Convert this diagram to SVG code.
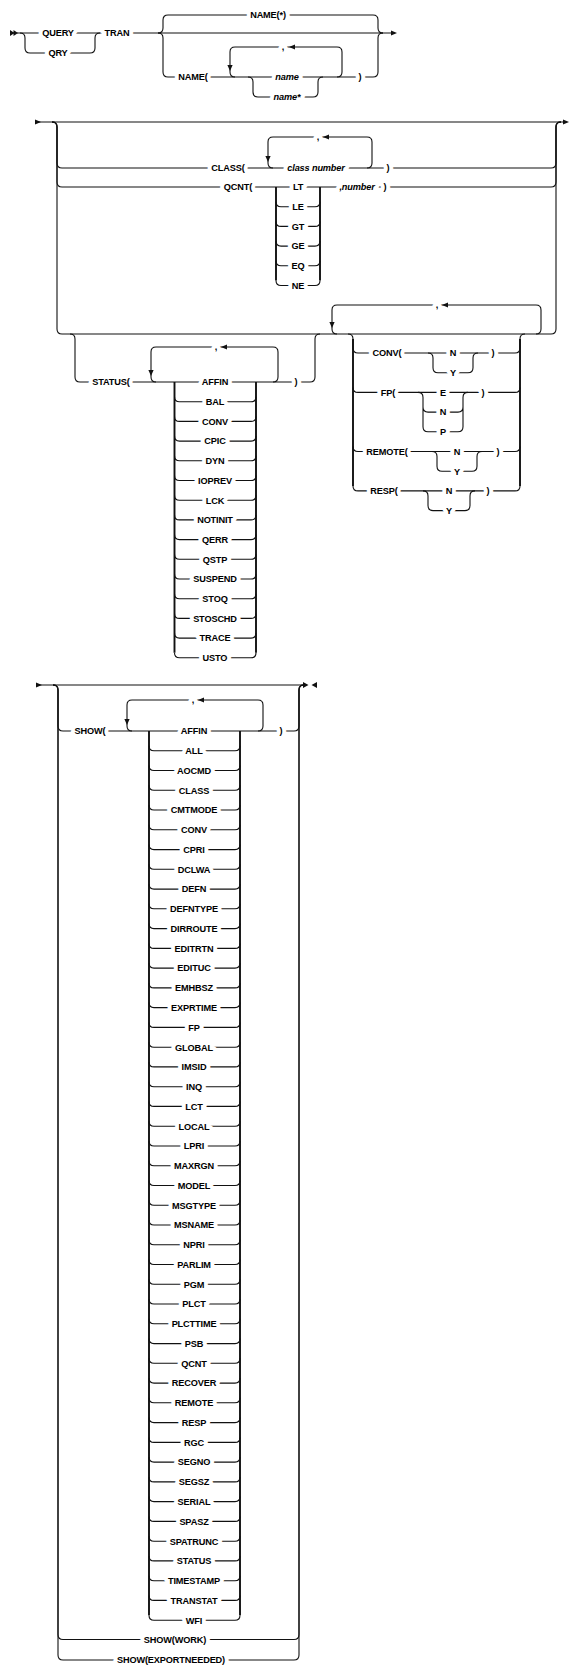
<svg xmlns="http://www.w3.org/2000/svg" xmlns:xlink="http://www.w3.org/1999/xlink" width="570" height="1668" viewBox="0 0 570 1668">
<defs>
<style>
.c{fill:none;stroke:#111;stroke-width:1.1}
.r{fill:none;stroke:#111;stroke-width:1.9}
.a{fill:#111;stroke:none}
text{font-family:"Liberation Sans",Arial,sans-serif;font-size:9.2px;letter-spacing:-0.15px;font-weight:bold;text-anchor:middle;fill:#000;stroke:#fff;stroke-width:8px;stroke-linejoin:round;paint-order:stroke}
text.i{font-style:italic}
</style>
<path id="al" d="M0,0 L6,-2.6 L6,2.6Z"/>
<path id="ad" d="M0,0 L-2.6,-6 L2.6,-6Z"/>
<path id="ar" d="M0,0 L-6,-2.6 L-6,2.6Z"/>
</defs>
<rect width="570" height="1668" fill="#fff"/>
<g id="connectors">
<!-- section 1 -->
<path class="a" d="M10,30 L14.5,33 L10,36Z M13.5,30 L18,33 L13.5,36Z"/>
<path class="c" d="M17,33 H391"/>
<use class="a" href="#ar" x="397" y="33"/>
<path class="c" d="M20,33 Q25,33 25,38 V48 Q25,53 30,53 H90 Q95,53 95,48 V38 Q95,33 100,33"/>
<path class="c" d="M158,33 Q163,33 163,28 V20 Q163,15 168,15 H373 Q378,15 378,20 V28 Q378,33 383,33"/>
<path class="c" d="M158,33 Q163,33 163,38 V72 Q163,77 168,77 H373 Q378,77 378,72 V38 Q378,33 383,33"/>
<path class="c" d="M337,77 Q342,77 342,72 V52 Q342,47 337,47 H235 Q230,47 230,52 V72 Q230,77 235,77"/>
<use class="a" href="#ad" x="230" y="71"/>
<use class="a" href="#al" x="289" y="47"/>
<path class="c" d="M248,77 Q253,77 253,82 V92 Q253,97 258,97 H313 Q318,97 318,92 V82 Q318,77 323,77"/>
<!-- section 2 -->
<path class="a" d="M35,119.4 L41,122 L35,124.6Z"/>
<path class="c" d="M35,122 H563"/>
<use class="a" href="#ar" x="569" y="122"/>
<path class="c" d="M52,122 Q57,122 57,127 V163 Q57,168 62,168 H551 Q556,168 556,163 V127 Q556,122 561,122"/>
<path class="c" d="M52,122 Q57,122 57,127 V182 Q57,187 62,187 H551 Q556,187 556,182 V127 Q556,122 561,122"/>
<path class="c" d="M52,122 Q57,122 57,127 V329 Q57,334 62,334 H551 Q556,334 556,329 V127 Q556,122 561,122"/>
<path class="c" d="M367,168 Q372,168 372,163 V142 Q372,137 367,137 H273 Q268,137 268,142 V163 Q268,168 273,168"/>
<use class="a" href="#ad" x="268" y="162"/>
<use class="a" href="#al" x="323" y="137"/>
<path class="r" d="M276,187 V280.5 M320,187 V280.5"/>
<path class="c" d="M276,201.7 Q276,206.7 281,206.7 H315 Q320,206.7 320,201.7 M276,221.4 Q276,226.4 281,226.4 H315 Q320,226.4 320,221.4 M276,241.1 Q276,246.1 281,246.1 H315 Q320,246.1 320,241.1 M276,260.8 Q276,265.8 281,265.8 H315 Q320,265.8 320,260.8 M276,280.5 Q276,285.5 281,285.5 H315 Q320,285.5 320,280.5"/>
<!-- STATUS group -->
<path class="c" d="M70,334 Q75,334 75,339 V377 Q75,382 80,382 H310 Q315,382 315,377 V339 Q315,334 320,334"/>
<path class="c" d="M273,382 Q278,382 278,377 V352 Q278,347 273,347 H156 Q151,347 151,352 V377 Q151,382 156,382"/>
<use class="a" href="#ad" x="151" y="376"/>
<use class="a" href="#al" x="221" y="347"/>
<path class="r" d="M174.5,382 V652.8 M256,382 V652.8"/>
<path class="c" d="M174.5,396.7 Q174.5,401.7 179.5,401.7 H251 Q256,401.7 256,396.7 M174.5,416.4 Q174.5,421.4 179.5,421.4 H251 Q256,421.4 256,416.4 M174.5,436.1 Q174.5,441.1 179.5,441.1 H251 Q256,441.1 256,436.1 M174.5,455.8 Q174.5,460.8 179.5,460.8 H251 Q256,460.8 256,455.8 M174.5,475.5 Q174.5,480.5 179.5,480.5 H251 Q256,480.5 256,475.5 M174.5,495.2 Q174.5,500.2 179.5,500.2 H251 Q256,500.2 256,495.2 M174.5,514.9 Q174.5,519.9 179.5,519.9 H251 Q256,519.9 256,514.9 M174.5,534.6 Q174.5,539.6 179.5,539.6 H251 Q256,539.6 256,534.6 M174.5,554.3 Q174.5,559.3 179.5,559.3 H251 Q256,559.3 256,554.3 M174.5,574 Q174.5,579 179.5,579 H251 Q256,579 256,574 M174.5,593.7 Q174.5,598.7 179.5,598.7 H251 Q256,598.7 256,593.7 M174.5,613.4 Q174.5,618.4 179.5,618.4 H251 Q256,618.4 256,613.4 M174.5,633.1 Q174.5,638.1 179.5,638.1 H251 Q256,638.1 256,633.1 M174.5,652.8 Q174.5,657.8 179.5,657.8 H251 Q256,657.8 256,652.8"/>
<!-- options group -->
<path class="c" d="M536,334 Q541,334 541,329 V310 Q541,305 536,305 H337 Q332,305 332,310 V329 Q332,334 337,334"/>
<use class="a" href="#ad" x="332" y="328"/>
<use class="a" href="#al" x="442" y="305"/>
<path class="c" d="M348,334 Q353,334 353,339 V348 Q353,353 358,353 H515 Q520,353 520,348 V339 Q520,334 525,334"/>
<path class="r" d="M353,339 V485.9 M520,339 V485.9"/>
<path class="c" d="M353,387.4 Q353,392.4 358,392.4 H515 Q520,392.4 520,387.4 M353,446.5 Q353,451.5 358,451.5 H515 Q520,451.5 520,446.5 M353,485.9 Q353,490.9 358,490.9 H515 Q520,490.9 520,485.9"/>
<path class="c" d="M428,353 Q433,353 433,358 V367.7 Q433,372.7 438,372.7 H468 Q473,372.7 473,367.7 V358 Q473,353 478,353"/>
<path class="c" d="M418,392.4 Q423,392.4 423,397.4 V426.8 Q423,431.8 428,431.8 H458 Q463,431.8 463,426.8 V397.4 Q463,392.4 468,392.4 M423,407.1 Q423,412.1 428,412.1 H458 Q463,412.1 463,407.1"/>
<path class="c" d="M432,451.5 Q437,451.5 437,456.5 V466.2 Q437,471.2 442,471.2 H472 Q477,471.2 477,466.2 V456.5 Q477,451.5 482,451.5"/>
<path class="c" d="M423,490.9 Q428,490.9 428,495.9 V505.6 Q428,510.6 433,510.6 H465 Q470,510.6 470,505.6 V495.9 Q470,490.9 475,490.9"/>
<!-- section 3 -->
<path class="a" d="M36,682.4 L42,685 L36,687.6Z"/>
<path class="c" d="M36,685 H303"/>
<path class="a" d="M303,682 L308.5,685 L303,688Z M317,682 L311.5,685 L317,688Z"/>
<path class="c" d="M53,685 Q58,685 58,690 V726 Q58,731 63,731 H294 Q299,731 299,726 V690 Q299,685 304,685"/>
<path class="c" d="M53,685 Q58,685 58,690 V1634.5 Q58,1639.5 63,1639.5 H294 Q299,1639.5 299,1634.5 V690 Q299,685 304,685"/>
<path class="c" d="M53,685 Q58,685 58,690 V1655 Q58,1660 63,1660 H294 Q299,1660 299,1655 V690 Q299,685 304,685"/>
<path class="c" d="M258,731 Q263,731 263,726 V705 Q263,700 258,700 H132 Q127,700 127,705 V726 Q127,731 132,731"/>
<use class="a" href="#ad" x="127" y="725"/>
<use class="a" href="#al" x="198" y="700"/>
<path class="r" d="M149,731 V1615.2 M240,731 V1615.2"/>
<path class="c" d="M149,745.8 Q149,750.8 154,750.8 H235 Q240,750.8 240,745.8 M149,765.5 Q149,770.5 154,770.5 H235 Q240,770.5 240,765.5 M149,785.3 Q149,790.3 154,790.3 H235 Q240,790.3 240,785.3 M149,805 Q149,810 154,810 H235 Q240,810 240,805 M149,824.8 Q149,829.8 154,829.8 H235 Q240,829.8 240,824.8 M149,844.6 Q149,849.6 154,849.6 H235 Q240,849.6 240,844.6 M149,864.3 Q149,869.3 154,869.3 H235 Q240,869.3 240,864.3 M149,884.1 Q149,889.1 154,889.1 H235 Q240,889.1 240,884.1 M149,903.8 Q149,908.8 154,908.8 H235 Q240,908.8 240,903.8 M149,923.6 Q149,928.6 154,928.6 H235 Q240,928.6 240,923.6 M149,943.4 Q149,948.4 154,948.4 H235 Q240,948.4 240,943.4 M149,963.1 Q149,968.1 154,968.1 H235 Q240,968.1 240,963.1 M149,982.9 Q149,987.9 154,987.9 H235 Q240,987.9 240,982.9 M149,1002.6 Q149,1007.6 154,1007.6 H235 Q240,1007.6 240,1002.6 M149,1022.4 Q149,1027.4 154,1027.4 H235 Q240,1027.4 240,1022.4 M149,1042.2 Q149,1047.2 154,1047.2 H235 Q240,1047.2 240,1042.2 M149,1061.9 Q149,1066.9 154,1066.9 H235 Q240,1066.9 240,1061.9 M149,1081.7 Q149,1086.7 154,1086.7 H235 Q240,1086.7 240,1081.7 M149,1101.4 Q149,1106.4 154,1106.4 H235 Q240,1106.4 240,1101.4 M149,1121.2 Q149,1126.2 154,1126.2 H235 Q240,1126.2 240,1121.2 M149,1141 Q149,1146 154,1146 H235 Q240,1146 240,1141 M149,1160.7 Q149,1165.7 154,1165.7 H235 Q240,1165.7 240,1160.7 M149,1180.5 Q149,1185.5 154,1185.5 H235 Q240,1185.5 240,1180.5 M149,1200.2 Q149,1205.2 154,1205.2 H235 Q240,1205.2 240,1200.2 M149,1220 Q149,1225 154,1225 H235 Q240,1225 240,1220 M149,1239.8 Q149,1244.8 154,1244.8 H235 Q240,1244.8 240,1239.8 M149,1259.5 Q149,1264.5 154,1264.5 H235 Q240,1264.5 240,1259.5 M149,1279.3 Q149,1284.3 154,1284.3 H235 Q240,1284.3 240,1279.3 M149,1299 Q149,1304 154,1304 H235 Q240,1304 240,1299 M149,1318.8 Q149,1323.8 154,1323.8 H235 Q240,1323.8 240,1318.8 M149,1338.6 Q149,1343.6 154,1343.6 H235 Q240,1343.6 240,1338.6 M149,1358.3 Q149,1363.3 154,1363.3 H235 Q240,1363.3 240,1358.3 M149,1378.1 Q149,1383.1 154,1383.1 H235 Q240,1383.1 240,1378.1 M149,1397.8 Q149,1402.8 154,1402.8 H235 Q240,1402.8 240,1397.8 M149,1417.6 Q149,1422.6 154,1422.6 H235 Q240,1422.6 240,1417.6 M149,1437.4 Q149,1442.4 154,1442.4 H235 Q240,1442.4 240,1437.4 M149,1457.1 Q149,1462.1 154,1462.1 H235 Q240,1462.1 240,1457.1 M149,1476.9 Q149,1481.9 154,1481.9 H235 Q240,1481.9 240,1476.9 M149,1496.6 Q149,1501.6 154,1501.6 H235 Q240,1501.6 240,1496.6 M149,1516.4 Q149,1521.4 154,1521.4 H235 Q240,1521.4 240,1516.4 M149,1536.2 Q149,1541.2 154,1541.2 H235 Q240,1541.2 240,1536.2 M149,1555.9 Q149,1560.9 154,1560.9 H235 Q240,1560.9 240,1555.9 M149,1575.7 Q149,1580.7 154,1580.7 H235 Q240,1580.7 240,1575.7 M149,1595.4 Q149,1600.4 154,1600.4 H235 Q240,1600.4 240,1595.4 M149,1615.2 Q149,1620.2 154,1620.2 H235 Q240,1620.2 240,1615.2"/>
</g>
<!-- section 1 nodes -->
<g id="n-query"><text x="58" y="36.3">QUERY</text></g>
<g id="n-qry"><text x="58" y="56.3">QRY</text></g>
<g id="n-tran"><text x="117" y="36.3">TRAN</text></g>
<g id="n-nameall"><text x="268" y="18.3">NAME(*)</text></g>
<g id="n-name-open"><text x="193" y="80.3">NAME(</text></g>
<g id="n-name-comma"><text x="283" y="50.3">,</text></g>
<g id="n-name"><text class="i" x="287" y="80.3">name</text></g>
<g id="n-namestar"><text class="i" x="287" y="100.3">name*</text></g>
<g id="n-name-close"><text x="360" y="80.3">)</text></g>
<!-- section 2 nodes -->
<g id="n-class-open"><text x="228" y="171.3">CLASS(</text></g>
<g id="n-class-comma"><text x="318" y="140.3">,</text></g>
<g id="n-classnumber"><text class="i" x="316" y="171.3">class number</text></g>
<g id="n-class-close"><text x="388" y="171.3">)</text></g>
<g id="n-qcnt-open"><text x="238" y="190.3">QCNT(</text></g>
<g id="n-qcnt-ops">
<text x="298" y="190.3">LT</text>
<text x="298" y="210">LE</text>
<text x="298" y="229.7">GT</text>
<text x="298" y="249.4">GE</text>
<text x="298" y="269.1">EQ</text>
<text x="298" y="288.8">NE</text>
</g>
<g id="n-qcnt-number"><text class="i" x="357" y="190.3">,number</text></g>
<g id="n-qcnt-close"><text x="385" y="190.3">)</text></g>
<g id="n-status-open"><text x="111" y="385.3">STATUS(</text></g>
<g id="n-status-comma"><text x="216" y="350.3">,</text></g>
<g id="n-status-values">
<text x="215" y="385.3">AFFIN</text>
<text x="215" y="405">BAL</text>
<text x="215" y="424.7">CONV</text>
<text x="215" y="444.4">CPIC</text>
<text x="215" y="464.1">DYN</text>
<text x="215" y="483.8">IOPREV</text>
<text x="215" y="503.5">LCK</text>
<text x="215" y="523.2">NOTINIT</text>
<text x="215" y="542.9">QERR</text>
<text x="215" y="562.6">QSTP</text>
<text x="215" y="582.3">SUSPEND</text>
<text x="215" y="602">STOQ</text>
<text x="215" y="621.7">STOSCHD</text>
<text x="215" y="641.4">TRACE</text>
<text x="215" y="661.1">USTO</text>
</g>
<g id="n-status-close"><text x="296" y="385.3">)</text></g>
<g id="n-opt-comma"><text x="437" y="308.3">,</text></g>
<g id="n-conv"><text x="387" y="356.3">CONV(</text><text x="453" y="356.3">N</text><text x="453" y="376">Y</text><text x="493" y="356.3">)</text></g>
<g id="n-fp"><text x="388" y="395.7">FP(</text><text x="443" y="395.7">E</text><text x="443" y="415.4">N</text><text x="443" y="435.1">P</text><text x="483" y="395.7">)</text></g>
<g id="n-remote"><text x="387" y="454.8">REMOTE(</text><text x="457" y="454.8">N</text><text x="457" y="474.5">Y</text><text x="498" y="454.8">)</text></g>
<g id="n-resp"><text x="384" y="494.2">RESP(</text><text x="449" y="494.2">N</text><text x="449" y="513.9">Y</text><text x="488" y="494.2">)</text></g>
<!-- section 3 nodes -->
<g id="n-show-open"><text x="90" y="734.3">SHOW(</text></g>
<g id="n-show-comma"><text x="193" y="703.3">,</text></g>
<g id="n-show-close"><text x="281" y="734.3">)</text></g>
<g id="n-show-values">
<text x="194" y="734.3">AFFIN</text>
<text x="194" y="754.1">ALL</text>
<text x="194" y="773.8">AOCMD</text>
<text x="194" y="793.6">CLASS</text>
<text x="194" y="813.3">CMTMODE</text>
<text x="194" y="833.1">CONV</text>
<text x="194" y="852.9">CPRI</text>
<text x="194" y="872.6">DCLWA</text>
<text x="194" y="892.4">DEFN</text>
<text x="194" y="912.1">DEFNTYPE</text>
<text x="194" y="931.9">DIRROUTE</text>
<text x="194" y="951.7">EDITRTN</text>
<text x="194" y="971.4">EDITUC</text>
<text x="194" y="991.2">EMHBSZ</text>
<text x="194" y="1010.9">EXPRTIME</text>
<text x="194" y="1030.7">FP</text>
<text x="194" y="1050.5">GLOBAL</text>
<text x="194" y="1070.2">IMSID</text>
<text x="194" y="1090">INQ</text>
<text x="194" y="1109.7">LCT</text>
<text x="194" y="1129.5">LOCAL</text>
<text x="194" y="1149.3">LPRI</text>
<text x="194" y="1169">MAXRGN</text>
<text x="194" y="1188.8">MODEL</text>
<text x="194" y="1208.5">MSGTYPE</text>
<text x="194" y="1228.3">MSNAME</text>
<text x="194" y="1248.1">NPRI</text>
<text x="194" y="1267.8">PARLIM</text>
<text x="194" y="1287.6">PGM</text>
<text x="194" y="1307.3">PLCT</text>
<text x="194" y="1327.1">PLCTTIME</text>
<text x="194" y="1346.9">PSB</text>
<text x="194" y="1366.6">QCNT</text>
<text x="194" y="1386.4">RECOVER</text>
<text x="194" y="1406.1">REMOTE</text>
<text x="194" y="1425.9">RESP</text>
<text x="194" y="1445.7">RGC</text>
<text x="194" y="1465.4">SEGNO</text>
<text x="194" y="1485.2">SEGSZ</text>
<text x="194" y="1504.9">SERIAL</text>
<text x="194" y="1524.7">SPASZ</text>
<text x="194" y="1544.5">SPATRUNC</text>
<text x="194" y="1564.2">STATUS</text>
<text x="194" y="1584">TIMESTAMP</text>
<text x="194" y="1603.7">TRANSTAT</text>
<text x="194" y="1623.5">WFI</text>
</g>
<g id="n-showwork"><text x="175" y="1642.8">SHOW(WORK)</text></g>
<g id="n-showexport"><text x="171" y="1663.3">SHOW(EXPORTNEEDED)</text></g>
</svg>
